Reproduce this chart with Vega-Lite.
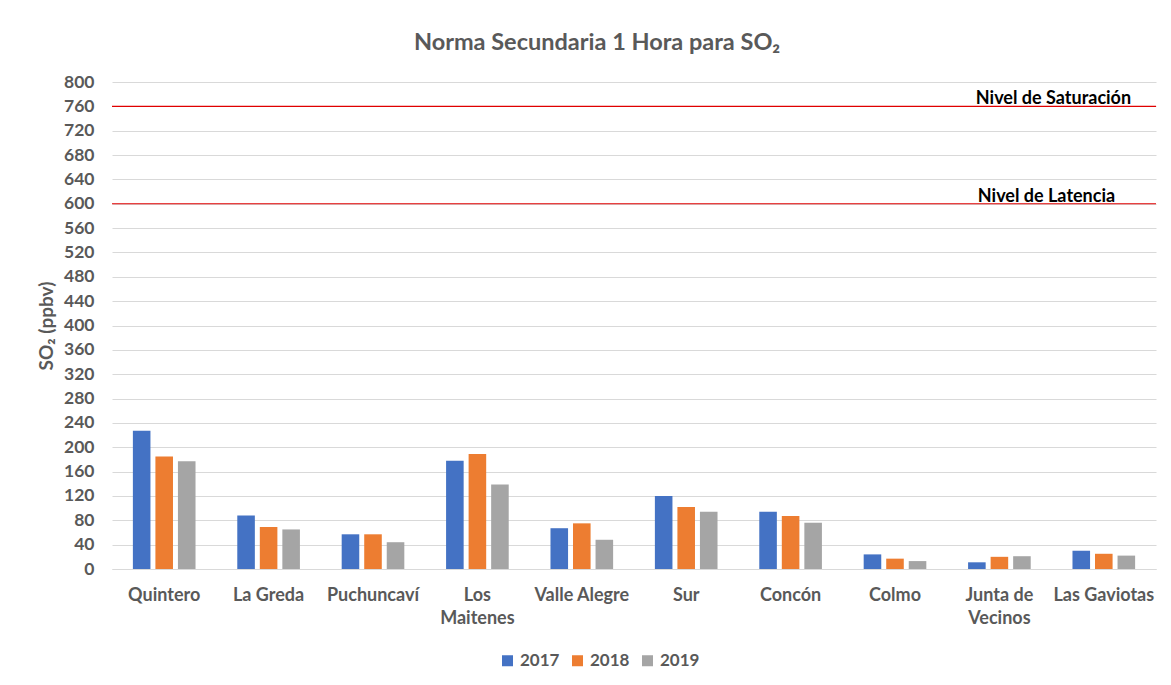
{
  "$schema": "https://vega.github.io/schema/vega-lite/v6.json",
  "width": 1044,
  "height": 487,
  "autosize": {"type": "pad"},
  "padding": {"left": 37, "top": 30, "right": 14, "bottom": 10},
  "background": "white",
  "config": {
    "font": "Lato",
    "view": {"stroke": null},
    "axis": {"labelFont": "Lato", "titleFont": "Lato"},
    "axisY": {"labelOverlap": false, "tickCount": 30}
  },
  "title": {
    "text": "Norma Secundaria 1 Hora para SO₂",
    "fontSize": 23.5,
    "font": "Lato",
    "fontWeight": "bold",
    "color": "#595959",
    "anchor": "middle",
    "frame": "bounds",
    "offset": 19
  },
  "datasets": {
    "so2": [
      {"estacion": "Quintero", "anio": "2017", "valor": 227},
      {"estacion": "Quintero", "anio": "2018", "valor": 185},
      {"estacion": "Quintero", "anio": "2019", "valor": 177},
      {"estacion": "La Greda", "anio": "2017", "valor": 88},
      {"estacion": "La Greda", "anio": "2018", "valor": 69},
      {"estacion": "La Greda", "anio": "2019", "valor": 65},
      {"estacion": "Puchuncaví", "anio": "2017", "valor": 57},
      {"estacion": "Puchuncaví", "anio": "2018", "valor": 57},
      {"estacion": "Puchuncaví", "anio": "2019", "valor": 44},
      {"estacion": "Los Maitenes", "anio": "2017", "valor": 178},
      {"estacion": "Los Maitenes", "anio": "2018", "valor": 189},
      {"estacion": "Los Maitenes", "anio": "2019", "valor": 139},
      {"estacion": "Valle Alegre", "anio": "2017", "valor": 67},
      {"estacion": "Valle Alegre", "anio": "2018", "valor": 75},
      {"estacion": "Valle Alegre", "anio": "2019", "valor": 48},
      {"estacion": "Sur", "anio": "2017", "valor": 120},
      {"estacion": "Sur", "anio": "2018", "valor": 102},
      {"estacion": "Sur", "anio": "2019", "valor": 94},
      {"estacion": "Concón", "anio": "2017", "valor": 94},
      {"estacion": "Concón", "anio": "2018", "valor": 87},
      {"estacion": "Concón", "anio": "2019", "valor": 76},
      {"estacion": "Colmo", "anio": "2017", "valor": 24},
      {"estacion": "Colmo", "anio": "2018", "valor": 17},
      {"estacion": "Colmo", "anio": "2019", "valor": 13},
      {"estacion": "Junta de Vecinos", "anio": "2017", "valor": 11},
      {"estacion": "Junta de Vecinos", "anio": "2018", "valor": 20},
      {"estacion": "Junta de Vecinos", "anio": "2019", "valor": 21},
      {"estacion": "Las Gaviotas", "anio": "2017", "valor": 30},
      {"estacion": "Las Gaviotas", "anio": "2018", "valor": 25},
      {"estacion": "Las Gaviotas", "anio": "2019", "valor": 22}
    ],
    "niveles": [
      {"nivel": "Nivel de Saturación", "valor": 760, "pos": "Las Gaviotas", "desplaz": -19},
      {"nivel": "Nivel de Latencia", "valor": 600, "pos": "Las Gaviotas", "desplaz": -26}
    ]
  },
  "layer": [
    {
      "data": {"name": "so2"},
      "mark": {"type": "bar"},
      "encoding": {
        "x": {
          "field": "estacion",
          "type": "nominal",
          "scale": {
            "domain": ["Quintero", "La Greda", "Puchuncaví", "Los Maitenes", "Valle Alegre", "Sur", "Concón", "Colmo", "Junta de Vecinos", "Las Gaviotas"],
            "paddingInner": 0.4,
            "paddingOuter": 0.2
          },
          "axis": {
            "title": null,
            "labelAngle": 0,
            "labelFontSize": 18,
            "labelFontWeight": "bold",
            "labelColor": "#595959",
            "labelPadding": 17,
            "labelLineHeight": 23,
            "labelBaseline": "top",
            "ticks": false,
            "domainColor": "#d9d9d9",
            "domainWidth": 1,
            "labelExpr": "datum.label == 'Los Maitenes' ? ['Los', 'Maitenes'] : datum.label == 'Junta de Vecinos' ? ['Junta de', 'Vecinos'] : datum.label"
          }
        },
        "xOffset": {
          "field": "anio",
          "type": "nominal",
          "scale": {"paddingInner": 0.22, "paddingOuter": 0}
        },
        "y": {
          "field": "valor",
          "type": "quantitative",
          "scale": {"domain": [0, 800], "nice": false},
          "axis": {
            "title": "SO₂ (ppbv)",
            "titleFontSize": 19,
            "titleFontWeight": "bold",
            "titleColor": "#595959",
            "titlePadding": 7,
            "values": [0, 40, 80, 120, 160, 200, 240, 280, 320, 360, 400, 440, 480, 520, 560, 600, 640, 680, 720, 760, 800],
            "tickCount": 30,
            "labelOverlap": false,
            "labelFontSize": 17.5,
            "labelFontWeight": "bold",
            "labelColor": "#595959",
            "labelPadding": 18,
            "ticks": false,
            "domain": false,
            "gridColor": "#d9d9d9",
            "gridWidth": 1
          }
        },
        "color": {
          "field": "anio",
          "type": "nominal",
          "scale": {"domain": ["2017", "2018", "2019"], "range": ["#4472C4", "#ED7D31", "#A5A5A5"]},
          "legend": {
            "title": null,
            "orient": "none",
            "legendX": 387,
            "legendY": 570,
            "direction": "horizontal",
            "symbolType": "square",
            "symbolSize": 121,
            "symbolStrokeWidth": 0,
            "labelFontSize": 17,
            "labelFontWeight": "bold",
            "labelColor": "#595959",
            "labelFont": "Lato",
            "labelOffset": 4,
            "columnPadding": 9
          }
        }
      }
    },
    {
      "data": {"name": "niveles"},
      "mark": {"type": "rule", "color": "#E00000", "strokeWidth": 1.2},
      "encoding": {
        "y": {"field": "valor", "type": "quantitative"}
      }
    },
    {
      "data": {"name": "niveles"},
      "mark": {"type": "text", "font": "Lato", "fontSize": 18, "fontWeight": "bold", "color": "#000000", "align": "center", "baseline": "alphabetic", "dy": -2},
      "encoding": {
        "x": {"field": "pos", "type": "nominal"},
        "y": {"field": "valor", "type": "quantitative"},
        "text": {"field": "nivel"},
        "xOffset": {"field": "desplaz", "type": "quantitative", "scale": null}
      }
    }
  ]
}
